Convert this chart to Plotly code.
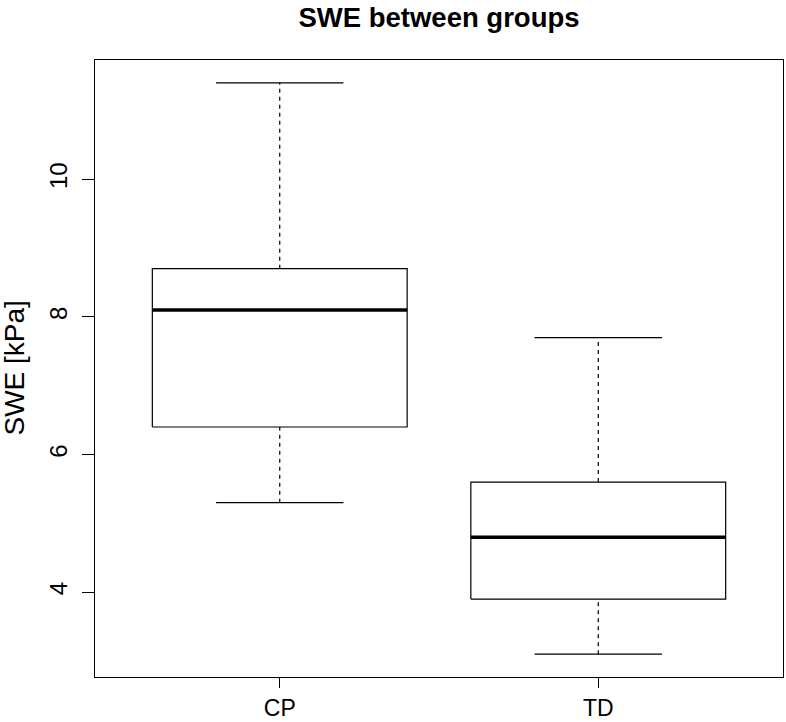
import plotly.graph_objects as go

groups = ["CP", "TD"]
lower_whisker = [5.3, 3.1]
q1 = [6.4, 3.9]
median = [8.1, 4.8]
q3 = [8.7, 5.6]
upper_whisker = [11.4, 7.7]
y_ticks = [4, 6, 8, 10]

BOX_HALF = 0.4
CAP_HALF = 0.2
pos = list(range(1, len(groups) + 1))

box_x, box_y = [], []
med_x, med_y = [], []
wh_x, wh_y = [], []
cap_x, cap_y = [], []
for p, lo, a, m, b, hi in zip(pos, lower_whisker, q1, median, q3, upper_whisker):
    box_x += [p - BOX_HALF, p + BOX_HALF, p + BOX_HALF, p - BOX_HALF, p - BOX_HALF, None]
    box_y += [a, a, b, b, a, None]
    med_x += [p - BOX_HALF, p + BOX_HALF, None]
    med_y += [m, m, None]
    wh_x += [p, p, None, p, p, None]
    wh_y += [b, hi, None, lo, a, None]
    cap_x += [p - CAP_HALF, p + CAP_HALF, None, p - CAP_HALF, p + CAP_HALF, None]
    cap_y += [hi, hi, None, lo, lo, None]

fig = go.Figure()
fig.add_trace(go.Scatter(x=wh_x, y=wh_y, mode="lines",
                         line=dict(color="black", width=1.2, dash="4px,4px"),
                         hoverinfo="skip", showlegend=False))
fig.add_trace(go.Scatter(x=cap_x, y=cap_y, mode="lines",
                         line=dict(color="black", width=1.2),
                         hoverinfo="skip", showlegend=False))
fig.add_trace(go.Scatter(x=box_x, y=box_y, mode="lines",
                         line=dict(color="black", width=1.2),
                         hoverinfo="skip", showlegend=False))
fig.add_trace(go.Scatter(x=med_x, y=med_y, mode="lines",
                         line=dict(color="black", width=3.5),
                         hoverinfo="skip", showlegend=False))

font_family = "Liberation Sans, Arial, Helvetica, sans-serif"
L, R, T, B = 95, 3, 60, 45
W, H = 786, 722
fig.update_layout(
    width=W, height=H,
    margin=dict(l=L, r=R, t=T, b=B, autoexpand=False),
    paper_bgcolor="white", plot_bgcolor="white",
    font=dict(family=font_family, color="black", size=24),
    title=dict(text="<b>SWE between groups</b>", x=0.5 * (L + W - R) / W, xanchor="center",
               y=1 - 17 / H, yanchor="middle",
               font=dict(size=27.5, family=font_family, color="black")),
    xaxis=dict(range=[0.42, 2.58], tickvals=pos, ticktext=groups, automargin=False,
               showgrid=False, zeroline=False, showline=True, mirror=True,
               linecolor="black", linewidth=1.2, ticks="outside", ticklen=10,
               tickcolor="black", tickwidth=1.2, ticklabelstandoff=0,
               tickfont=dict(size=23)),
    yaxis=dict(range=[2.768, 11.732], tickvals=y_ticks, ticktext=[str(v) for v in y_ticks],
               automargin=False,
               showgrid=False, zeroline=False, showline=True, mirror=True,
               linecolor="black", linewidth=1.2, ticks="outside", ticklen=12,
               tickcolor="black", tickwidth=1.2, tickangle=-90, ticklabelstandoff=5,
               tickfont=dict(size=24)),
    annotations=[dict(text="SWE [kPa]", xref="paper", yref="paper", x=0, y=0.5,
                      xanchor="center", yanchor="middle", xshift=-(L - 14),
                      textangle=-90, showarrow=False, font=dict(size=28))],
)

fig.write_html("out.html", config={"displayModeBar": False},
               post_script="document.body.style.margin='0';document.body.style.padding='0';")
